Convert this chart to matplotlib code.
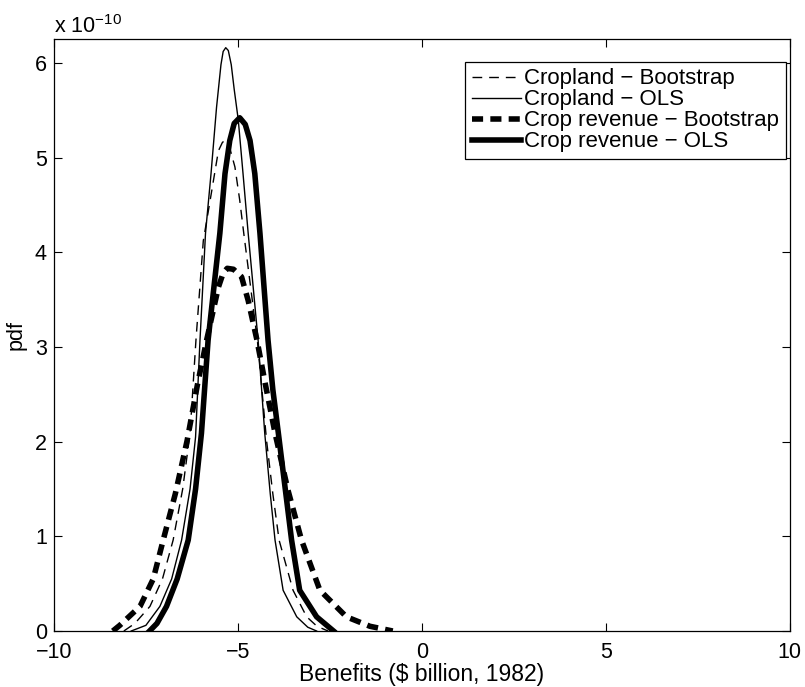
import matplotlib
matplotlib.use("Agg")
import matplotlib.pyplot as plt

plt.rcParams['font.family'] = ['Liberation Sans', 'DejaVu Sans']

# pdf values are in units of 1e-10
# Cropland - Bootstrap
crop_boot_x = [-8.1, -7.8, -7.39, -7.05, -6.76, -6.50, -6.30, -6.14, -5.94, -5.71, -5.53,
               -5.42, -5.35, -5.22, -5.08, -4.95, -4.84, -4.66, -4.47, -4.22, -4.05,
               -3.88, -3.50, -3.13, -2.85, -2.55]
crop_boot_y = [0.0, 0.08, 0.26, 0.55, 0.96, 1.50, 2.09, 3.07, 4.12, 4.65, 5.07,
               5.16, 5.18, 5.10, 4.90, 4.55, 4.20, 3.65, 3.07, 2.01, 1.45,
               0.96, 0.43, 0.15, 0.05, 0.0]

# Cropland - OLS
crop_ols_x = [-7.9, -7.5, -7.12, -6.80, -6.53, -6.30, -6.15, -6.03, -5.88, -5.73, -5.58,
              -5.46, -5.40, -5.33, -5.26, -5.18, -5.10, -4.99, -4.86, -4.72, -4.45, -4.27,
              -4.12, -3.99, -3.77, -3.40, -3.10, -2.86]
crop_ols_y = [0.0, 0.06, 0.26, 0.55, 0.96, 1.50, 2.05, 3.07, 4.20, 4.83, 5.53,
              5.98, 6.12, 6.16, 6.13, 5.98, 5.72, 5.40, 4.83, 4.20, 3.07, 2.09,
              1.45, 0.96, 0.43, 0.15, 0.04, 0.0]

# Crop revenue - Bootstrap
rev_boot_x = [-8.4, -8.21, -7.66, -7.30, -7.03, -6.70, -6.38, -6.10, -5.85, -5.53, -5.40,
              -5.29, -5.12, -4.90, -4.72, -4.48, -4.25, -3.99, -3.64, -3.27, -2.77,
              -2.05, -1.41, -0.79]
rev_boot_y = [0.0, 0.06, 0.26, 0.55, 0.96, 1.45, 2.01, 2.60, 3.07, 3.63, 3.78,
              3.83, 3.82, 3.74, 3.49, 3.07, 2.60, 2.09, 1.49, 0.96, 0.43,
              0.15, 0.05, 0.0]

# Crop revenue - OLS
rev_ols_x = [-7.4, -7.2, -6.94, -6.65, -6.35, -6.15, -5.99, -5.81, -5.49, -5.35, -5.22,
             -5.10, -4.95, -4.80, -4.67, -4.54, -4.40, -4.18, -4.05, -3.90, -3.54,
             -3.32, -2.86, -2.40]
rev_ols_y = [0.0, 0.08, 0.26, 0.55, 0.96, 1.50, 2.09, 3.07, 4.20, 4.83, 5.18,
             5.36, 5.42, 5.35, 5.18, 4.83, 4.20, 3.07, 2.55, 2.09, 0.96,
             0.43, 0.15, 0.0]

labels = ['Cropland \u2212 Bootstrap', 'Cropland \u2212 OLS',
          'Crop revenue \u2212 Bootstrap', 'Crop revenue \u2212 OLS']

fs = 15.5
fig = plt.figure(figsize=(8.05, 6.87), dpi=100)
ax = fig.add_axes([0.067, 0.0815, 0.914, 0.8615])

ax.plot(crop_boot_x, crop_boot_y, color='black', lw=1.0, dashes=(7, 5), label=labels[0])
ax.plot(crop_ols_x, crop_ols_y, color='black', lw=1.0, label=labels[1])
ax.plot(rev_boot_x, rev_boot_y, color='black', lw=4.0, dashes=(2.0, 1.3), label=labels[2])
ax.plot(rev_ols_x, rev_ols_y, color='black', lw=4.0, label=labels[3])

ax.set_xlim(-10, 10)
ax.set_ylim(0, 6.25)
ax.set_xticks([-10, -5, 0, 5, 10])
ax.set_yticks([0, 1, 2, 3, 4, 5, 6])
ax.set_xticklabels(['\u221210', '\u22125', '0', '5', '10'])
ax.tick_params(direction='in', top=True, right=True, labelsize=fs, length=6, width=0.8)
ax.tick_params(axis='x', pad=8)
ax.tick_params(axis='y', pad=5)
for s in ax.spines.values():
    s.set_linewidth(0.9)

ax.set_xlabel('Benefits ($ billion, 1982)', fontsize=16.5, labelpad=0)
ax.set_ylabel('pdf', fontsize=fs, labelpad=6)
fig.text(0.067, 0.962, 'x 10$^{\\mathregular{\u221210}}$', fontsize=fs, ha='left', va='center')

leg = ax.legend(loc='upper right', bbox_to_anchor=(0.995, 0.962), fontsize=16,
                frameon=True, fancybox=False, edgecolor='black', framealpha=1,
                handlelength=2.2, handletextpad=0.15, labelspacing=0.0,
                borderpad=0.3, borderaxespad=0)
leg.get_frame().set_linewidth(0.9)

fig.savefig('out.png', dpi=100)
